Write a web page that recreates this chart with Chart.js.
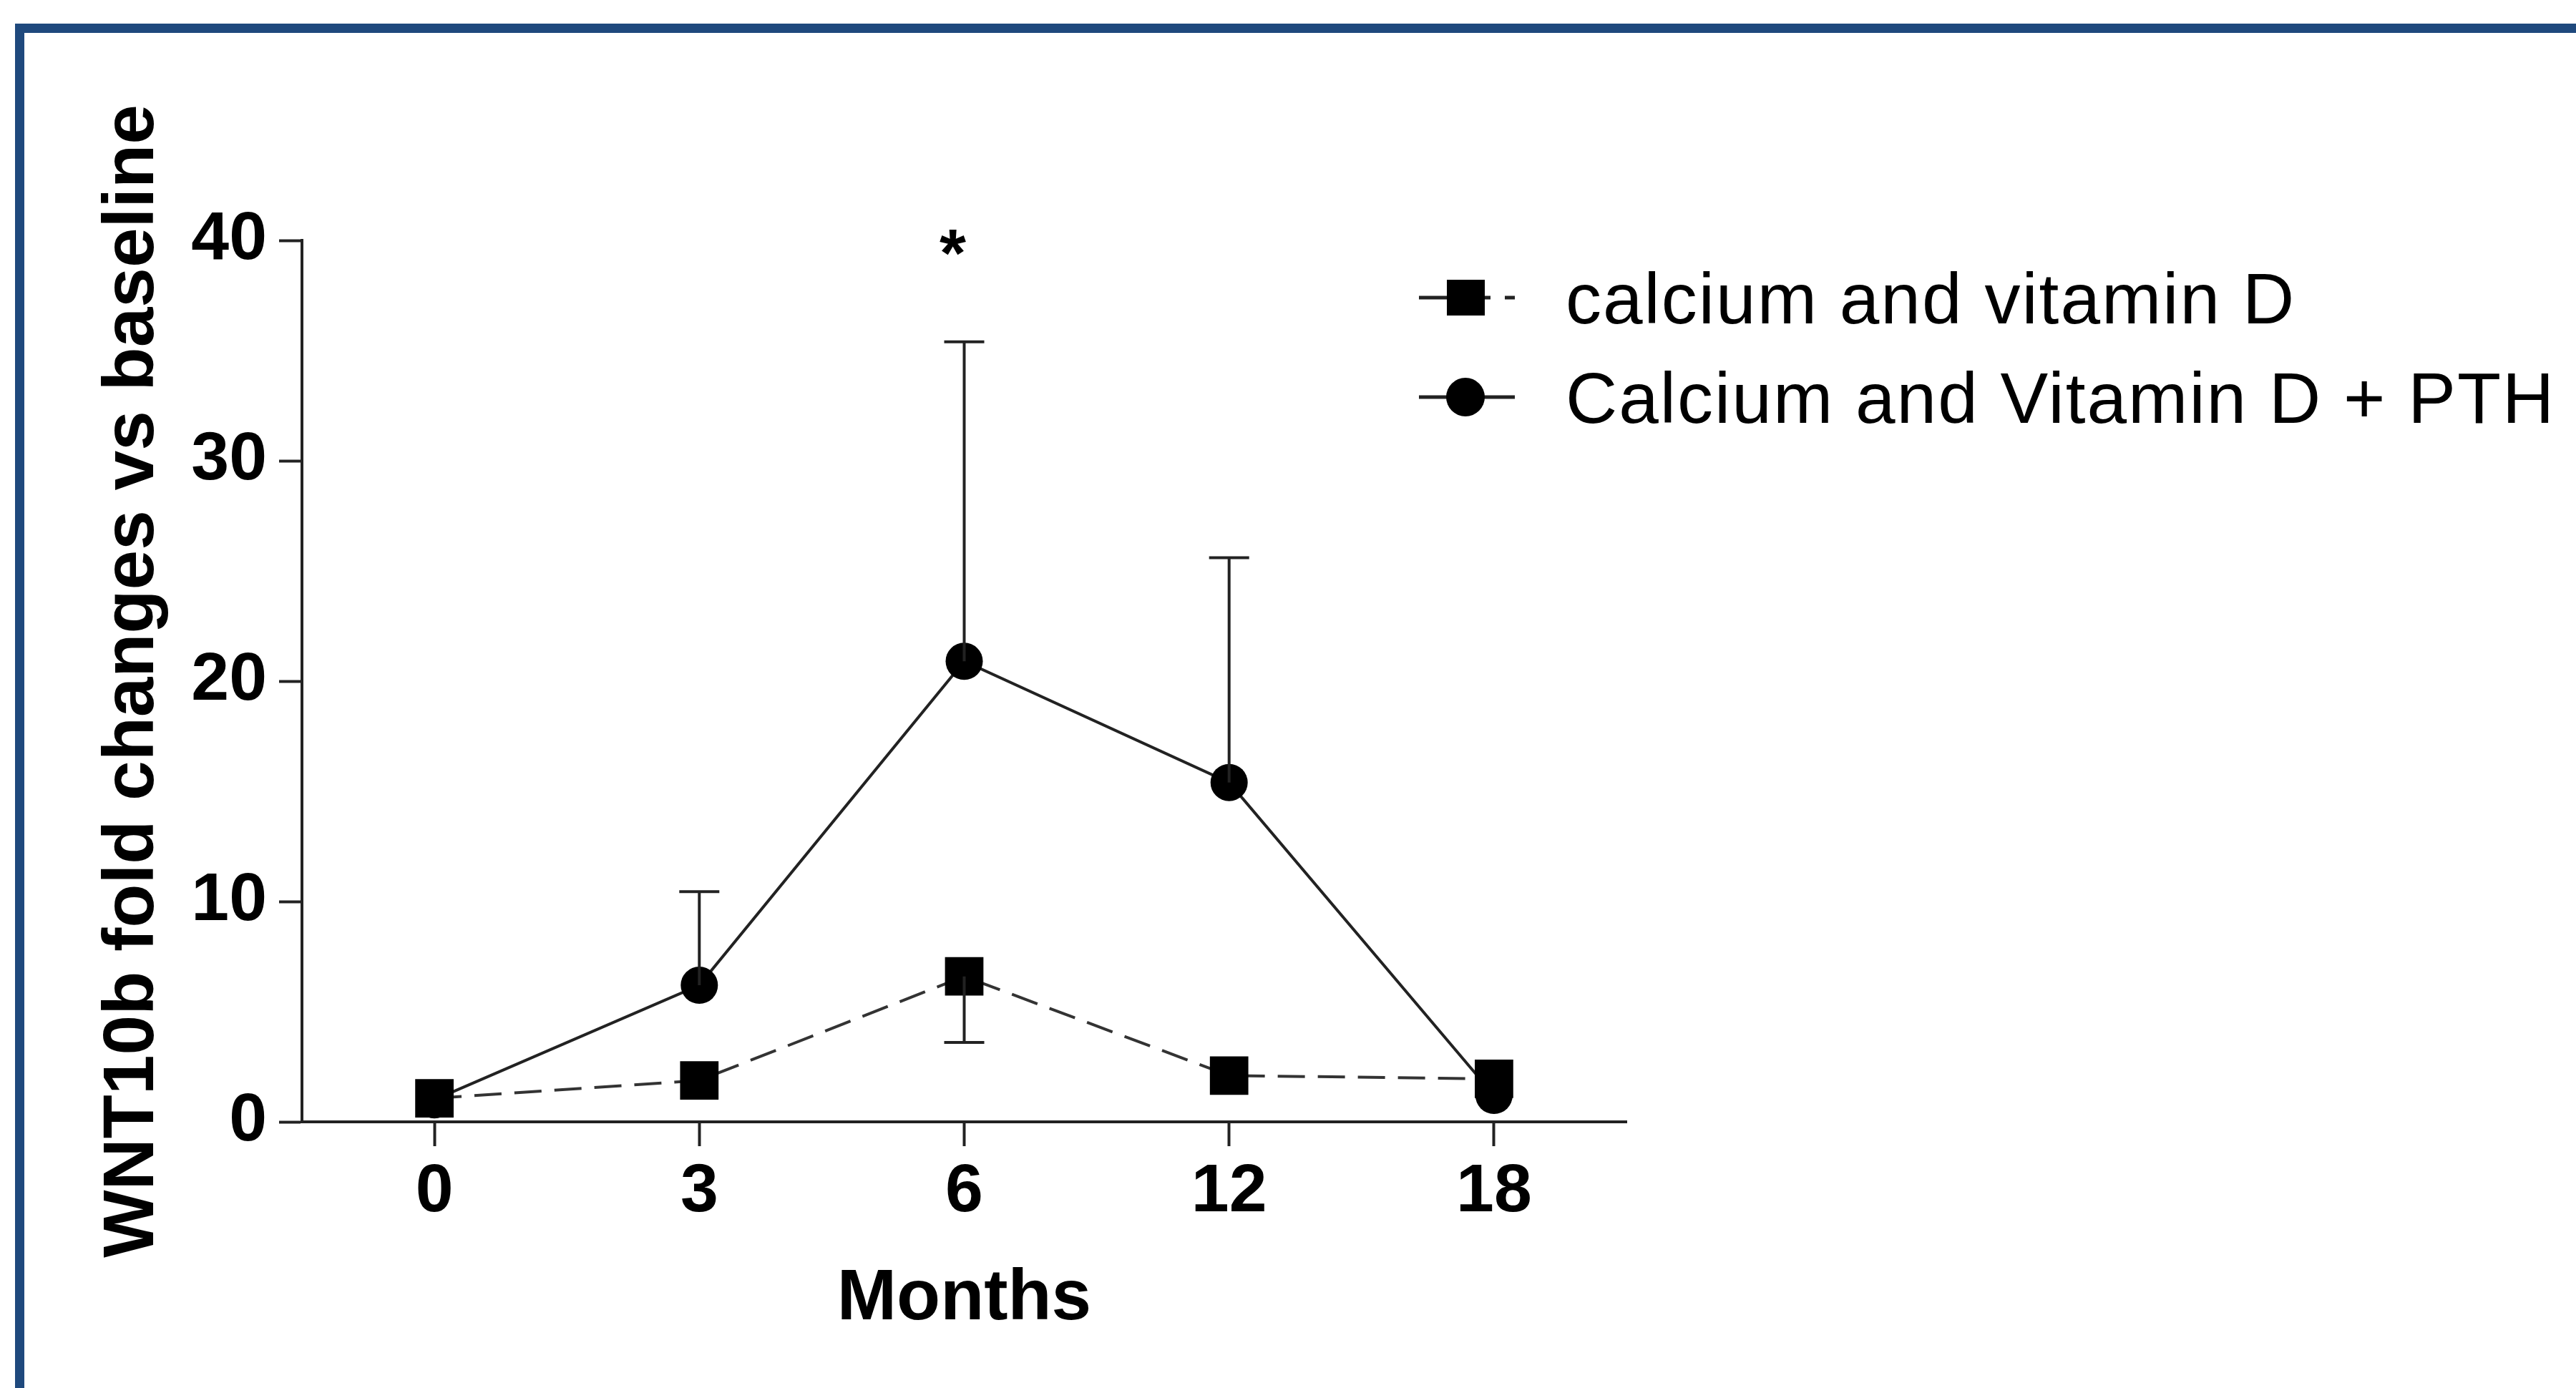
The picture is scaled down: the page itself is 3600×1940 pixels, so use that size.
<!DOCTYPE html>
<html>
<head>
<meta charset="utf-8">
<script src="https://cdn.jsdelivr.net/npm/chart.js@4.4.0/dist/chart.umd.min.js"></script>
<style>
  html, body { margin: 0; padding: 0; background: #fff; overflow: hidden; }
  #wrap { position: relative; width: 3600px; height: 1940px; }
  #frame {
    position: absolute; left: 21px; top: 33px; width: 3700px; height: 2000px;
    border-top: 13px solid #1f497d; border-left: 13px solid #1f497d; pointer-events: none;
  }
</style>
</head>
<body>
<div id="wrap">
  <canvas id="wntChart" width="3600" height="1940"></canvas>
  <div id="frame"></div>
</div>
<script>
const months = ["0", "3", "6", "12", "18"];
const calcVitD = [1.07, 1.88, 6.6, 2.1, 1.95];
const calcVitDErrDown = [0, 0, 3.0, 0, 0];
const calcVitDPth = [1.0, 6.2, 20.9, 15.4, 1.2];
const calcVitDPthErrUp = [0, 4.25, 14.5, 10.2, 0];
const sigMarks = ["", "", "*", "", ""];
const yTicks = [0, 10, 20, 30, 40];

const FONT = "'Liberation Sans', Arial, sans-serif";
const INK = "#222";

// error bars + significance star, drawn from the scales
const errorBars = {
    id: "errorBars",
    afterDatasetsDraw(chart) {
        const ctx = chart.ctx;
        const x = chart.scales.x;
        const y = chart.scales.y;
        const cap = 28;
        ctx.save();
        ctx.strokeStyle = INK;
        ctx.lineWidth = 4;
        const bar = (i, from, to) => {
            const px = x.getPixelForValue(i);
            const y0 = y.getPixelForValue(from);
            const y1 = y.getPixelForValue(to);
            ctx.beginPath();
            ctx.moveTo(px, y0);
            ctx.lineTo(px, y1);
            ctx.moveTo(px - cap, y1);
            ctx.lineTo(px + cap, y1);
            ctx.stroke();
        };
        calcVitDPth.forEach((v, i) => {
            if (calcVitDPthErrUp[i] > 0) bar(i, v, v + calcVitDPthErrUp[i]);
        });
        calcVitD.forEach((v, i) => {
            if (calcVitDErrDown[i] > 0) bar(i, v, v - calcVitDErrDown[i]);
        });
        ctx.fillStyle = "#000";
        ctx.font = "bold 95px " + FONT;
        ctx.textAlign = "center";
        ctx.textBaseline = "alphabetic";
        sigMarks.forEach((m, i) => {
            if (m) ctx.fillText(m, x.getPixelForValue(i) - 16, y.getPixelForValue(40) + 50);
        });
        ctx.restore();
    },
};

// legend placed to the right of the plot, like the original figure
const sideLegend = {
    id: "sideLegend",
    afterDraw(chart) {
        const ctx = chart.ctx;
        const rows = [
            { label: "calcium and vitamin D", y: 416, ds: 0 },
            { label: "Calcium and Vitamin D + PTH", y: 555, ds: 1 },
        ];
        ctx.save();
        ctx.strokeStyle = INK;
        ctx.fillStyle = "#000";
        ctx.lineWidth = 5;
        rows.forEach((r) => {
            const cx = 2048;
            if (r.ds === 0) {
                ctx.beginPath();
                ctx.moveTo(1983, r.y);
                ctx.lineTo(2083, r.y);
                ctx.moveTo(2103, r.y);
                ctx.lineTo(2117, r.y);
                ctx.stroke();
                ctx.fillRect(cx - 26, r.y - 25, 53, 50);
            } else {
                ctx.beginPath();
                ctx.moveTo(1983, r.y);
                ctx.lineTo(2117, r.y);
                ctx.stroke();
                ctx.beginPath();
                ctx.arc(cx, r.y, 27, 0, Math.PI * 2);
                ctx.fill();
            }
            ctx.font = "100px " + FONT;
            ctx.letterSpacing = "2px";
            ctx.textAlign = "left";
            ctx.textBaseline = "alphabetic";
            ctx.fillText(r.label, 2188, r.y + 36);
        });
        ctx.restore();
    },
};

new Chart(document.getElementById("wntChart"), {
    type: "line",
    data: {
        labels: months,
        datasets: [
            {
                label: "calcium and vitamin D",
                data: calcVitD,
                borderColor: "#333",
                borderWidth: 4,
                borderDash: [38, 18],
                pointStyle: "rect",
                pointRadius: 38,
                pointBackgroundColor: "#000",
                pointBorderWidth: 0,
                tension: 0,
            },
            {
                label: "Calcium and Vitamin D + PTH",
                data: calcVitDPth,
                borderColor: INK,
                borderWidth: 4,
                pointStyle: "circle",
                pointRadius: 26,
                pointBackgroundColor: "#000",
                pointBorderWidth: 0,
                tension: 0,
            },
        ],
    },
    options: {
        responsive: false,
        animation: false,
        devicePixelRatio: 1,
        layout: {
            padding: { left: 0, top: 336, right: 1327, bottom: 0 },
        },
        scales: {
            x: {
                offset: true,
                afterFit: (scale) => {
                    scale.height = 372;
                },
                grid: {
                    drawOnChartArea: false,
                    drawTicks: true,
                    tickLength: 34,
                    tickWidth: 4,
                    tickColor: INK,
                },
                border: { display: true, color: INK, width: 4 },
                ticks: {
                    color: "#000",
                    padding: 8,
                    font: { family: FONT, size: 95, weight: "bold" },
                },
                title: {
                    display: true,
                    text: "Months",
                    color: "#000",
                    font: { family: FONT, size: 100, weight: "bold", lineHeight: 1.2 },
                    padding: { top: 0, bottom: 64 },
                },
            },
            y: {
                min: 0,
                max: 40,
                afterFit: (scale) => {
                    scale.width = 422;
                },
                afterBuildTicks: (scale) => {
                    scale.ticks = yTicks.map((v) => ({ value: v }));
                },
                grid: {
                    drawOnChartArea: false,
                    drawTicks: true,
                    tickLength: 32,
                    tickWidth: 4,
                    tickColor: INK,
                },
                border: { display: true, color: INK, width: 4 },
                ticks: {
                    color: "#000",
                    padding: 17,
                    font: { family: FONT, size: 95, weight: "bold" },
                },
                title: {
                    display: true,
                    text: "WNT10b fold changes vs baseline",
                    color: "#000",
                    font: { family: FONT, size: 100, weight: "bold", lineHeight: 1.2 },
                    padding: { top: 126, bottom: 0 },
                },
            },
        },
        plugins: {
            legend: { display: false },
            tooltip: { enabled: false },
        },
    },
    plugins: [errorBars, sideLegend],
});
</script>
</body>
</html>
